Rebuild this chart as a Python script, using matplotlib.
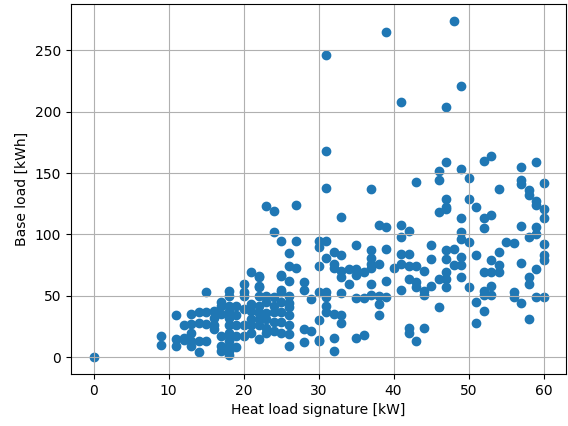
import matplotlib
matplotlib.use("Agg")
import matplotlib.pyplot as plt

# heat load signature [kW] -> base load values [kWh]
heat_signature = [
    0,
    9, 9,
    11, 11, 11,
    12, 12, 12,
    13, 13, 13, 13, 13,
    14, 14, 14, 14,
    15, 15, 15, 15,
    16, 16, 16, 16,
    17, 17, 17, 17, 17, 17,
    18, 18, 18, 18, 18, 18, 18, 18, 18, 18, 18, 18,
    19, 19, 19, 19, 19,
    20, 20, 20, 20, 20, 20,
    21, 21, 21, 21, 21, 21,
    22, 22, 22, 22, 22, 22, 22, 22, 22, 22,
    23, 23, 23, 23, 23, 23, 23,
    24, 24, 24, 24, 24, 24, 24,
    25, 25, 25, 25, 25, 25, 25, 25, 25,
    26, 26, 26, 26, 26, 26, 26, 26, 26, 26,
    27, 27, 27,
    28, 28, 28, 28,
    29, 29,
    30, 30, 30, 30, 30, 30, 30,
    31, 31, 31, 31, 31, 31, 31, 31, 31,
    32, 32, 32, 32, 32, 32,
    33, 33, 33, 33, 33, 33, 33,
    34, 34,
    35, 35, 35, 35, 35,
    36, 36, 36,
    37, 37, 37, 37, 37, 37, 37,
    38, 38, 38, 38, 38,
    39, 39, 39, 39, 39,
    40,
    41, 41, 41, 41, 41, 41,
    42, 42, 42, 42, 42, 42,
    43, 43, 43, 43, 43,
    44, 44, 44, 44,
    45, 45, 45,
    46, 46, 46, 46, 46,
    47, 47, 47, 47, 47, 47, 47, 47, 47, 47,
    48, 48, 48,
    49, 49, 49, 49, 49, 49, 49, 49,
    50, 50, 50, 50,
    51, 51, 51, 51,
    52, 52, 52, 52, 52, 52, 52,
    53, 53, 53, 53, 53, 53,
    54, 54, 54, 54,
    55,
    56, 56, 56,
    57, 57, 57, 57, 57, 57,
    58, 58, 58, 58, 58, 58,
    59, 59, 59, 59, 59, 59, 59,
    60, 60, 60, 60, 60, 60, 60,
]

base_load = [
    0,
    17, 10,
    34, 15, 9,
    26, 16, 14,
    35, 27, 20, 13, 9,
    37, 28, 13, 4,
    53, 37, 27, 13,
    38, 32, 23, 26,
    45, 42, 35, 17, 9, 5,
    54, 50, 38, 32, 26, 20, 13, 9, 5, 2, 42, 17,
    42, 34, 26, 17, 8,
    60, 50, 53, 39, 26, 17,
    69, 43, 38, 31, 26, 20,
    66, 57, 58, 50, 42, 36, 31, 26, 15, 65,
    123, 50, 45, 36, 31, 24, 20,
    119, 102, 49, 42, 37, 29, 21,
    95, 67, 66, 55, 53, 45, 37, 29, 20,
    85, 74, 62, 50, 44, 41, 34, 26, 19, 9,
    124, 95, 73,
    61, 55, 23, 12,
    47, 21,
    95, 90, 74, 53, 30, 14, 13,
    246, 168, 138, 95, 81, 53, 49, 42, 37,
    86, 76, 73, 35, 16, 5,
    114, 83, 70, 65, 52, 34, 28,
    72, 60,
    91, 72, 67, 48, 16,
    69, 48, 18,
    137, 87, 81, 76, 73, 60, 51,
    108, 76, 50, 43, 34,
    265, 106, 88, 62, 49,
    73,
    208, 108, 98, 84, 76, 55,
    103, 84, 74, 64, 24, 20,
    143, 74, 61, 57, 13,
    70, 54, 51, 24,
    91, 80, 58,
    152, 144, 118, 64, 41,
    204, 159, 129, 122, 121, 87, 80, 69, 64, 57,
    274, 88, 75,
    221, 153, 113, 102, 96, 82, 75, 65,
    146, 129, 94, 57,
    122, 83, 45, 28,
    160, 113, 105, 69, 54, 51, 38,
    164, 116, 79, 69, 58, 51,
    137, 86, 75, 69,
    94,
    93, 53, 49,
    155, 144, 141, 107, 77, 44,
    136, 132, 98, 65, 60, 31,
    159, 127, 124, 106, 100, 72, 49,
    142, 121, 113, 92, 83, 79, 49,
]

fig = plt.figure(figsize=(5.68, 4.26), dpi=100)
ax = fig.add_subplot(111)
fig.subplots_adjust(left=71/568, right=566/568, top=1-4/426, bottom=1-374/426)

ax.scatter(heat_signature, base_load)
ax.set_xlabel('Heat load signature [kW]')
ax.set_ylabel('Base load [kWh]')
ax.grid(True)

fig.savefig('out.png', dpi=100)
